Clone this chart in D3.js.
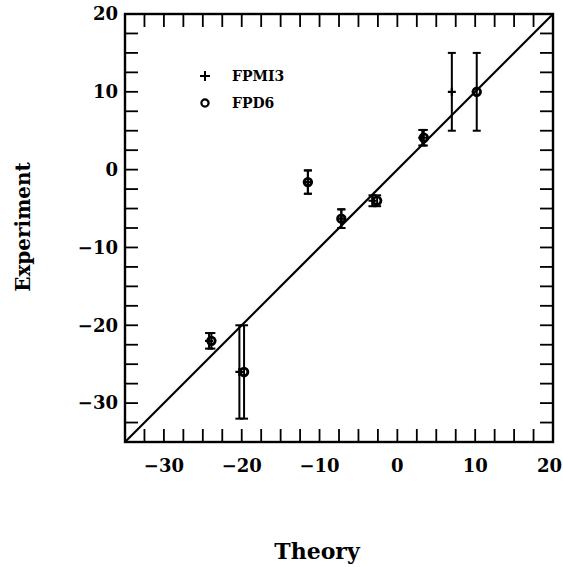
<!DOCTYPE html>
<html>
<head>
<meta charset="utf-8">
<script src="https://cdn.jsdelivr.net/npm/d3@7"></script>
<style>
body { margin:0; background:#fff; }
svg { display:block; }
</style>
</head>
<body>
<script>
// Data
const seriesNames = ["FPMI3", "FPD6"];
const fpmi3Theory = [-24.2, -20.3, -11.5, -7.2, -3.2, 3.2, 7.0];
const fpmi3Exp    = [-22.0, -26.0, -1.6, -6.3, -4.0, 4.1, 10.0];
const fpmi3Err    = [1.0, 6.0, 1.5, 1.2, 0.7, 1.0, 5.0];
const fpd6Theory  = [-23.9, -19.7, -11.5, -7.2, -2.6, 3.4, 10.2];
const fpd6Exp     = [-22.0, -26.0, -1.6, -6.3, -4.0, 4.1, 10.0];
const fpd6Err     = [1.0, 6.0, 1.5, 1.2, 0.7, 1.0, 5.0];
const xTickLabels = [-30, -20, -10, 0, 10, 20];
const yTickLabels = [-30, -20, -10, 0, 10, 20];
const domain = [-35, 20];
const minorStep = 2.5;

const W = 563, H = 567;
const svg = d3.select("body").append("svg").attr("width", W).attr("height", H);

const x = d3.scaleLinear().domain(domain).range([125, 553]);
const y = d3.scaleLinear().domain(domain).range([442, 14]);

const minorTicks = d3.range(domain[0], domain[1] + 0.001, minorStep);
const tickLen = 13;
const g = svg.append("g");

// ticks (inward on all four sides)
const tickG = g.append("g").attr("stroke", "#000").attr("stroke-width", 1.8);
minorTicks.forEach(v => {
  tickG.append("line").attr("x1", x(v)).attr("x2", x(v)).attr("y1", y.range()[0]).attr("y2", y.range()[0] - tickLen);
  tickG.append("line").attr("x1", x(v)).attr("x2", x(v)).attr("y1", y.range()[1]).attr("y2", y.range()[1] + tickLen);
  tickG.append("line").attr("y1", y(v)).attr("y2", y(v)).attr("x1", x.range()[0]).attr("x2", x.range()[0] + tickLen);
  tickG.append("line").attr("y1", y(v)).attr("y2", y(v)).attr("x1", x.range()[1]).attr("x2", x.range()[1] - tickLen);
});

// frame
g.append("rect").attr("x", x.range()[0]).attr("y", y.range()[1])
  .attr("width", x.range()[1] - x.range()[0]).attr("height", y.range()[0] - y.range()[1])
  .attr("fill", "none").attr("stroke", "#000").attr("stroke-width", 2.4);

// tick labels
const fmt = v => v < 0 ? "\u2212" + Math.abs(v) : String(v);
const lastX = xTickLabels[xTickLabels.length - 1];
g.append("g").selectAll("text").data(xTickLabels).join("text")
  .attr("x", d => d === lastX ? W - 1 : x(d)).attr("y", 472)
  .attr("text-anchor", d => d === lastX ? "end" : "middle")
  .attr("font-family", "DejaVu Serif").attr("font-weight", "bold").attr("font-size", 18)
  .text(fmt);
g.append("g").selectAll("text").data(yTickLabels).join("text")
  .attr("x", 118).attr("y", d => y(d)).attr("dy", "0.35em")
  .attr("text-anchor", "end")
  .attr("font-family", "DejaVu Serif").attr("font-weight", "bold").attr("font-size", 18)
  .text(fmt);

// axis titles
svg.append("text").attr("x", 317).attr("y", 559).attr("text-anchor", "middle")
  .attr("font-family", "DejaVu Serif").attr("font-weight", "bold").attr("font-size", 22)
  .text("Theory");
svg.append("text").attr("transform", "translate(30,227) rotate(-90)").attr("text-anchor", "middle")
  .attr("font-family", "DejaVu Serif").attr("font-weight", "bold").attr("font-size", 20)
  .text("Experiment");

// diagonal y = x
g.append("line").attr("x1", x(domain[0])).attr("y1", y(domain[0]))
  .attr("x2", x(domain[1])).attr("y2", y(domain[1]))
  .attr("stroke", "#000").attr("stroke-width", 2.2);

// error bars
function errBars(tx, ex, er) {
  const eg = g.append("g").attr("stroke", "#000").attr("stroke-width", 2);
  tx.forEach((t, i) => {
    const cx = x(t), y0 = y(ex[i] - er[i]), y1 = y(ex[i] + er[i]);
    eg.append("line").attr("x1", cx).attr("x2", cx).attr("y1", y0).attr("y2", y1);
    eg.append("line").attr("x1", cx - 4).attr("x2", cx + 4).attr("y1", y0).attr("y2", y0);
    eg.append("line").attr("x1", cx - 4).attr("x2", cx + 4).attr("y1", y1).attr("y2", y1);
  });
}
errBars(fpmi3Theory, fpmi3Exp, fpmi3Err);
errBars(fpd6Theory, fpd6Exp, fpd6Err);

// markers
const plusSize = 4;
g.append("g").attr("stroke", "#000").attr("stroke-width", 2.2).selectAll("path")
  .data(fpmi3Theory.map((t, i) => [t, fpmi3Exp[i]])).join("path")
  .attr("d", d => `M${x(d[0]) - plusSize},${y(d[1])}H${x(d[0]) + plusSize}M${x(d[0])},${y(d[1]) - plusSize}V${y(d[1]) + plusSize}`);
g.append("g").selectAll("circle")
  .data(fpd6Theory.map((t, i) => [t, fpd6Exp[i]])).join("circle")
  .attr("cx", d => x(d[0])).attr("cy", d => y(d[1])).attr("r", 3.8)
  .attr("fill", "none").attr("stroke", "#000").attr("stroke-width", 2.8);

// legend
const leg = svg.append("g");
leg.append("path").attr("d", "M200,76H210M205,71V81").attr("stroke", "#000").attr("stroke-width", 2);
leg.append("circle").attr("cx", 205).attr("cy", 103).attr("r", 3.6).attr("fill", "none").attr("stroke", "#000").attr("stroke-width", 2.2);
leg.selectAll("text").data(seriesNames).join("text")
  .attr("x", 232).attr("y", (d, i) => 76 + i * 27).attr("dy", "0.35em")
  .attr("font-family", "DejaVu Serif").attr("font-weight", "bold").attr("font-size", 14)
  .text(d => d);
</script>
</body>
</html>
